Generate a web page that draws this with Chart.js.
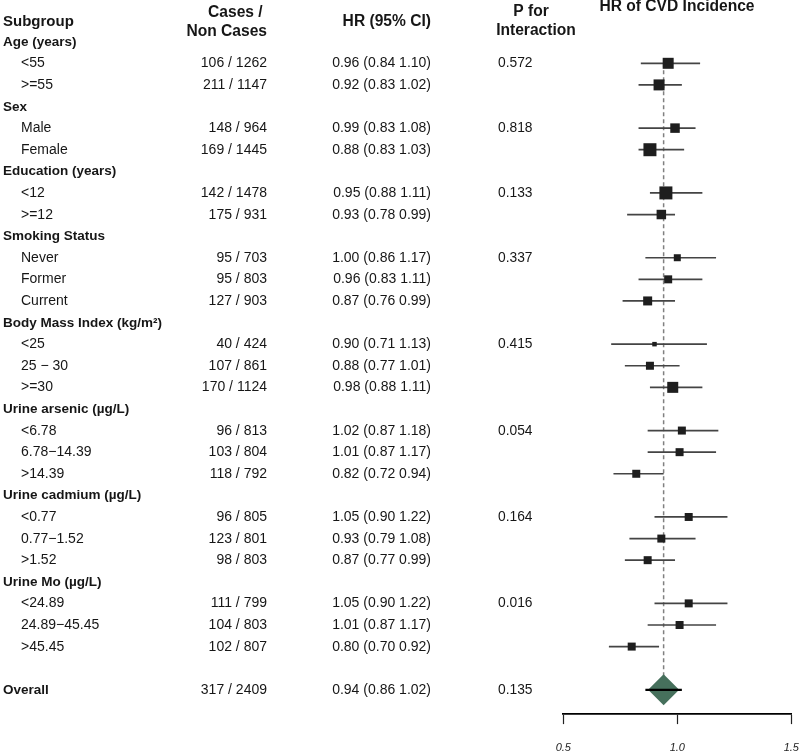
<!DOCTYPE html>
<html>
<head>
<meta charset="utf-8">
<script src="https://cdn.jsdelivr.net/npm/chart.js@4.4.1/dist/chart.umd.min.js"></script>
<style>
  html, body { margin: 0; padding: 0; background: #ffffff; }
  #c { display: block; }
</style>
</head>
<body>
<canvas id="c" width="800" height="752"></canvas>
<script>
// ---------------- DATA ----------------
const groupNames = ["Age (years)", "Sex", "Education (years)", "Smoking Status",
  "Body Mass Index (kg/m²)", "Urine arsenic (µg/L)", "Urine cadmium (µg/L)", "Urine Mo (µg/L)"];
const groupLevels = [["<55", ">=55"], ["Male", "Female"], ["<12", ">=12"],
  ["Never", "Former", "Current"], ["<25", "25 − 30", ">=30"],
  ["<6.78", "6.78−14.39", ">14.39"], ["<0.77", "0.77−1.52", ">1.52"],
  ["<24.89", "24.89−45.45", ">45.45"]];
const pInteraction = ["0.572", "0.818", "0.133", "0.337", "0.415", "0.054", "0.164", "0.016"];

const cases    = [106, 211, 148, 169, 142, 175, 95, 95, 127, 40, 107, 170, 96, 103, 118, 96, 123, 98, 111, 104, 102];
const nonCases = [1262, 1147, 964, 1445, 1478, 931, 703, 803, 903, 424, 861, 1124, 813, 804, 792, 805, 801, 803, 799, 803, 807];
const hrValues = [0.96, 0.92, 0.99, 0.88, 0.95, 0.93, 1.00, 0.96, 0.87, 0.90, 0.88, 0.98, 1.02, 1.01, 0.82, 1.05, 0.93, 0.87, 1.05, 1.01, 0.80];
const ciLower  = [0.84, 0.83, 0.83, 0.83, 0.88, 0.78, 0.86, 0.83, 0.76, 0.71, 0.77, 0.88, 0.87, 0.87, 0.72, 0.90, 0.79, 0.77, 0.90, 0.87, 0.70];
const ciUpper  = [1.10, 1.02, 1.08, 1.03, 1.11, 0.99, 1.17, 1.11, 0.99, 1.13, 1.01, 1.11, 1.18, 1.17, 0.94, 1.22, 1.08, 0.99, 1.22, 1.17, 0.92];
const boxWeight = [11, 11, 9.5, 13, 13, 9.5, 7, 8, 9, 4.5, 8, 11, 8, 8, 8, 8, 8, 8, 8, 8, 8];

const overallLabel = "Overall";
const overallCases = 317, overallNonCases = 2409;
const overallHR = 0.94, overallLower = 0.86, overallUpper = 1.02;
const overallP = "0.135";

const xTicks = [0.5, 1.0, 1.5];

// ---------------- BUILD ROWS ----------------
const FONT = '"Liberation Sans", Arial, Helvetica, sans-serif';
const rows = [];
let r = 0, k = 0;
groupNames.forEach((g, gi) => {
  rows.push({ idx: r++, label: g, heading: true });
  groupLevels[gi].forEach((lv, li) => {
    rows.push({
      idx: r++, label: lv, heading: false, k: k,
      cases: cases[k] + " / " + nonCases[k],
      hrText: hrValues[k].toFixed(2) + " (" + ciLower[k].toFixed(2) + " " + ciUpper[k].toFixed(2) + ")",
      p: li === 0 ? pInteraction[gi] : ""
    });
    k++;
  });
});
r++; // blank row
const overallRow = r;
rows.push({ idx: overallRow, label: overallLabel, heading: true, overall: true,
  cases: overallCases + " / " + overallNonCases,
  hrText: overallHR.toFixed(2) + " (" + overallLower.toFixed(2) + " " + overallUpper.toFixed(2) + ")",
  p: overallP });

const levelRows = rows.filter(o => !o.heading);
const boxData = levelRows.map(o => ({ x: hrValues[o.k], y: o.idx }));
const ciData = [];
levelRows.forEach(o => {
  ciData.push({ x: ciLower[o.k], y: o.idx });
  ciData.push({ x: ciUpper[o.k], y: o.idx });
  ciData.push({ x: ciUpper[o.k], y: null });
});
const firstLevel = levelRows[0].idx;

// ---------------- TEXT PLUGIN ----------------
const textPlugin = {
  id: 'forestText',
  afterDraw(chart) {
    const ctx = chart.ctx;
    const ys = chart.scales.y;
    ctx.save();
    ctx.fillStyle = '#161616';
    ctx.textBaseline = 'alphabetic';
    // column headers
    ctx.font = 'bold 15px ' + FONT;
    ctx.textAlign = 'left';
    ctx.fillText('Subgroup', 3, 26);
    ctx.font = 'bold 15.6px ' + FONT;
    ctx.textAlign = 'right';
    ctx.fillText('Cases / ', 267, 16.5);
    ctx.fillText('Non Cases', 267, 36);
    ctx.fillText('HR (95% CI)', 431, 26);
    ctx.textAlign = 'center';
    ctx.fillText('P for', 531, 16);
    ctx.fillText('Interaction', 536, 35);
    ctx.fillText('HR of CVD Incidence', 677, 10.5);

    rows.forEach(o => {
      const y = ys.getPixelForValue(o.idx) + 4;
      ctx.textAlign = 'left';
      if (o.heading) {
        ctx.font = 'bold 13.5px ' + FONT;
        ctx.fillText(o.label, 3, y);
      } else {
        ctx.font = '14px ' + FONT;
        ctx.fillText(o.label, 21, y);
      }
      if (o.cases) {
        ctx.font = '14px ' + FONT;
        ctx.textAlign = 'right';
        ctx.fillText(o.cases, 267, y);
        ctx.fillText(o.hrText, 431, y);
        ctx.font = '13.8px ' + FONT;
        ctx.textAlign = 'left';
        if (o.p) ctx.fillText(o.p, 498, y);
      }
    });
    ctx.restore();
  }
};

// ---------------- CHART ----------------
new Chart(document.getElementById('c'), {
  type: 'scatter',
  data: {
    datasets: [
      { // overall CI line on top of diamond
        data: [{ x: overallLower, y: overallRow }, { x: overallUpper, y: overallRow }],
        showLine: true, borderColor: '#000000', borderWidth: 2.2,
        pointRadius: 0, order: 1, clip: false
      },
      { // overall diamond
        data: [{ x: overallHR, y: overallRow }],
        pointStyle: 'rectRot', pointRadius: 15.5, pointBackgroundColor: '#46705c',
        pointBorderWidth: 0, pointBorderColor: '#46705c', order: 2, clip: false
      },
      { // boxes
        data: boxData,
        pointStyle: 'rect',
        pointRadius: (c) => boxWeight[c.dataIndex] / Math.SQRT2,
        pointBackgroundColor: '#1e1e1e', pointBorderWidth: 0, pointBorderColor: '#1e1e1e',
        order: 3, clip: false
      },
      { // CI lines
        data: ciData, showLine: true, spanGaps: false,
        borderColor: '#444444', borderWidth: 1.7, pointRadius: 0, order: 4, clip: false
      },
      { // reference dashed line at overall HR
        data: [{ x: overallHR, y: firstLevel }, { x: overallHR, y: overallRow }],
        showLine: true, borderColor: '#808080', borderWidth: 1.5, borderDash: [4, 3],
        pointRadius: 0, order: 5, clip: false
      }
    ]
  },
  options: {
    responsive: false,
    animation: false,
    devicePixelRatio: 1,
    events: [],
    layout: { autoPadding: false, padding: { left: 563.3, right: 8.7, top: 20.1, bottom: 0 } },
    plugins: { legend: { display: false }, tooltip: { enabled: false } },
    scales: {
      y: {
        type: 'linear', display: false, reverse: true,
        min: -1, max: 31.125
      },
      x: {
        type: 'linear', position: 'bottom',
        min: 0.5, max: 1.5,
        afterBuildTicks: (s) => { s.ticks = xTicks.map(v => ({ value: v })); },
        afterFit: (s) => { s.height = 37.9; s.paddingLeft = 0; s.paddingRight = 0; },
        border: { display: true, color: '#000000', width: 1.8 },
        grid: { display: true, drawOnChartArea: false, drawTicks: true, tickLength: 10,
                tickColor: '#222222', tickWidth: 1.2 },
        ticks: {
          padding: 17,
          color: '#222222',
          font: { family: FONT, size: 11, style: 'italic' },
          callback: (v) => Number(v).toFixed(1)
        }
      }
    }
  },
  plugins: [textPlugin]
});
</script>
</body>
</html>
